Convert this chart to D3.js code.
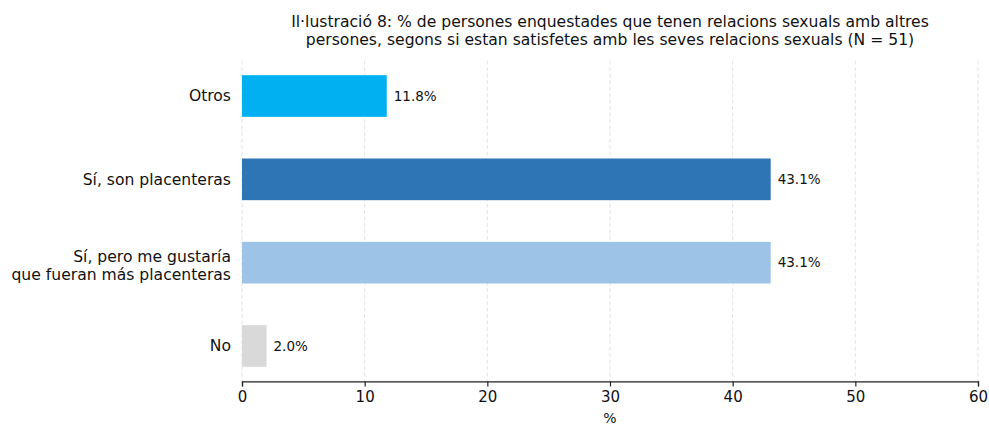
<!DOCTYPE html>
<html lang="ca">
<head>
<meta charset="UTF-8">
<title>Il·lustració 8</title>
<script src="https://d3js.org/d3.v7.min.js"></script>
<style>
  body { margin: 0; background: #fff; }
  svg { font-family: "DejaVu Sans", sans-serif; }
</style>
</head>
<body>
<div id="chart"></div>
<script>
// data (bottom to top as drawn)
const categories = ["No", "Sí, pero me gustaría\nque fueran más placenteras", "Sí, son placenteras", "Otros"];
const values = [2.0, 43.1, 43.1, 11.8];
const colors = ["#d9d9d9", "#9dc3e6", "#2e75b6", "#00b0f0"];
const xTicks = [0, 10, 20, 30, 40, 50, 60];
const titleLines = [
  "Il·lustració 8: % de persones enquestades que tenen relacions sexuals amb altres",
  "persones, segons si estan satisfetes amb les seves relacions sexuals (N = 51)"
];

const width = 989, height = 425;
const margin = {top: 60.6, right: 11, bottom: 43.6, left: 242};

const svg = d3.select("#chart").append("svg")
    .attr("width", width)
    .attr("height", height);

const x = d3.scaleLinear().domain([0, 60]).range([margin.left, width - margin.right]);
// top category first in the band order
const y = d3.scaleBand()
    .domain(categories.slice().reverse())
    .range([margin.top, height - margin.bottom])
    .paddingInner(0.5)
    .paddingOuter(0.175);

// grid
svg.append("g")
  .selectAll("line")
  .data(xTicks)
  .join("line")
    .attr("x1", d => x(d)).attr("x2", d => x(d))
    .attr("y1", margin.top).attr("y2", height - margin.bottom)
    .attr("stroke", "#dcdcdc")
    .attr("stroke-width", 0.8)
    .attr("stroke-dasharray", "4,2.5");

// bars
const rows = categories.map((c, i) => ({cat: c, v: values[i], color: colors[i]}));
svg.append("g")
  .selectAll("rect")
  .data(rows)
  .join("rect")
    .attr("x", x(0))
    .attr("y", d => y(d.cat))
    .attr("width", d => x(d.v) - x(0))
    .attr("height", y.bandwidth())
    .attr("fill", d => d.color);

// value labels
svg.append("g")
  .selectAll("text")
  .data(rows)
  .join("text")
    .attr("x", d => x(d.v) + 7)
    .attr("y", d => y(d.cat) + y.bandwidth() / 2)
    .attr("dy", "0.35em")
    .attr("font-size", 13.5)
    .attr("fill", "#111")
    .text(d => d.v.toFixed(1) + "%");

// x axis
const xAxis = svg.append("g")
    .attr("transform", `translate(0,${height - margin.bottom})`)
    .call(d3.axisBottom(x).tickValues(xTicks).tickSize(5).tickPadding(5));
xAxis.select(".domain").attr("stroke", "#222").attr("stroke-width", 1.2);
xAxis.selectAll(".tick line").attr("stroke", "#222").attr("stroke-width", 1.2);
xAxis.selectAll(".tick text").attr("font-size", 15).attr("fill", "#111")
    .attr("font-family", "DejaVu Sans, sans-serif");

svg.append("text")
    .attr("x", (x(0) + x(60)) / 2)
    .attr("y", 423)
    .attr("text-anchor", "middle")
    .attr("font-size", 14)
    .attr("fill", "#111")
    .text("%");

// y labels
const yl = svg.append("g")
  .selectAll("text")
  .data(rows)
  .join("text")
    .attr("x", margin.left - 11)
    .attr("y", d => y(d.cat) + y.bandwidth() / 2)
    .attr("text-anchor", "end")
    .attr("font-size", 15.6)
    .attr("fill", "#111");
yl.each(function(d) {
  const lines = d.cat.split("\n");
  const t = d3.select(this);
  lines.forEach((l, i) => {
    t.append("tspan")
      .attr("x", margin.left - 11)
      .attr("dy", i === 0 ? ((0.35 - (lines.length - 1) * 0.4) + "em") : "1.15em")
      .text(l);
  });
});

// title
svg.append("text")
    .attr("x", (x(0) + x(60)) / 2)
    .attr("text-anchor", "middle")
    .attr("font-size", 15.6)
    .attr("fill", "#111")
  .selectAll("tspan")
  .data(titleLines)
  .join("tspan")
    .attr("x", (x(0) + x(60)) / 2)
    .attr("y", (d, i) => 27 + i * 18)
    .text(d => d);
</script>
</body>
</html>
